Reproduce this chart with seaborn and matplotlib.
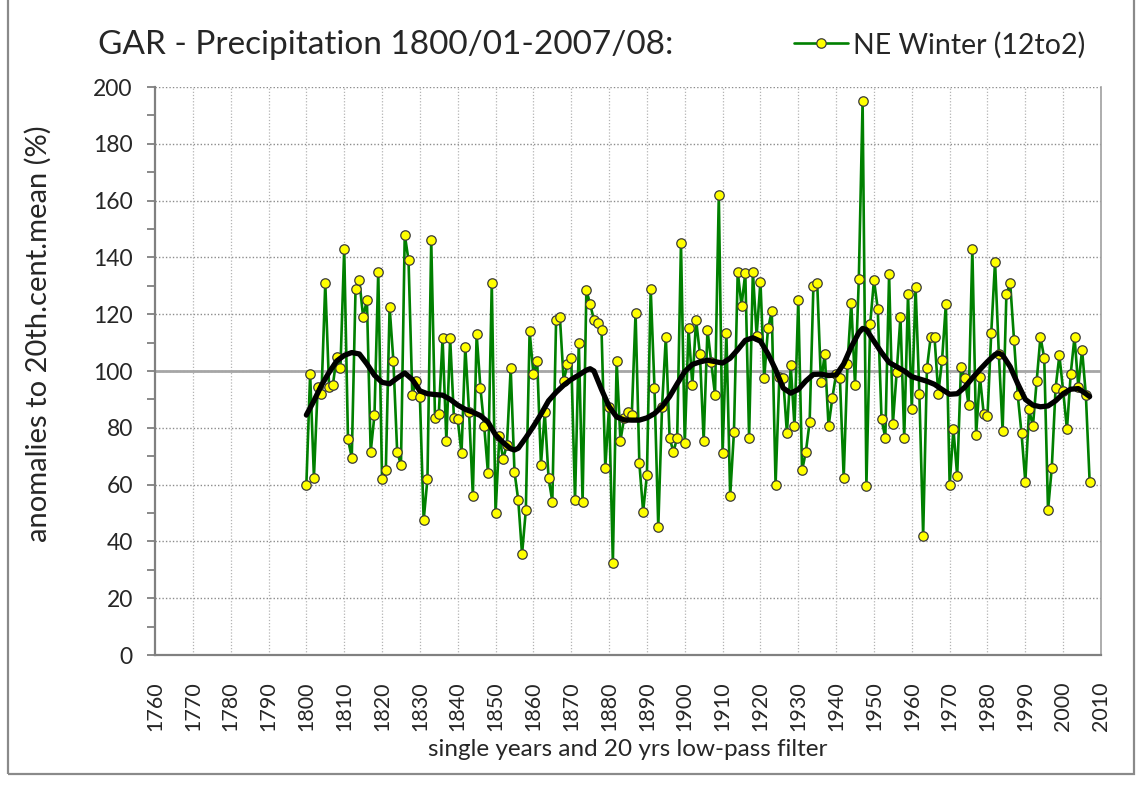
import matplotlib
matplotlib.use("Agg")
import matplotlib.pyplot as plt
from matplotlib.ticker import MultipleLocator
from matplotlib.lines import Line2D
import pandas as pd
import seaborn as sns

# NE winter (Dec-Feb) precipitation, % of 20th century mean, 1800/01 .. 2007/08
years = list(range(1800, 2008))
winter_pct = [
    60, 99, 62.5, 94.5, 92, 131, 94.5, 95, 105, 101,
    143, 76, 69.5, 129, 132, 119, 125, 71.5, 84.5, 135,
    62, 65, 122.5, 103.5, 71.5, 67, 148, 139, 91.5, 96.5,
    91, 47.5, 62, 146, 83.5, 85, 111.5, 75.5, 111.5, 83.5,
    83, 71, 108.5, 85.5, 56, 113, 94, 80.5, 64, 131,
    50, 77, 69, 74, 101, 64.5, 54.5, 35.5, 51, 114,
    99, 103.5, 67, 85.5, 62.5, 54, 118, 119, 96.5, 102.5,
    104.5, 54.5, 110, 54, 128.5, 123.5, 118, 117, 114.5, 66,
    87.5, 32.5, 103.5, 75.5, 83.5, 85.5, 84.5, 120.5, 67.5, 50.5,
    63.5, 129, 94, 45, 87.5, 112, 76.5, 71.5, 76.5, 145,
    74.5, 115, 95, 118, 106, 75.5, 114.5, 103, 91.5, 162,
    71, 113.5, 56, 78.5, 135, 123, 134.5, 76.5, 135, 112.5,
    131.5, 97.5, 115, 121, 60, 98, 97.5, 78, 102, 80.5,
    125, 65, 71.5, 82, 130, 131, 96, 106, 80.5, 90.5,
    99, 97.5, 62.5, 102.5, 124, 95, 132.5, 195, 59.5, 116.5,
    132, 122, 83, 76.5, 134, 81.5, 99.5, 119, 76.5, 127,
    86.5, 129.5, 92, 42, 101, 112, 112, 92, 104, 123.5,
    60, 79.5, 63, 101.5, 97.5, 88, 143, 77.5, 98, 85,
    84, 113.5, 138.5, 106, 79, 127, 131, 111, 91.5, 78,
    61, 86.5, 80.5, 96.5, 112, 104.5, 51, 66, 94, 105.5,
    93, 79.5, 99, 112, 94.5, 107.5, 91.5, 61,
]

# 20 yr low-pass curve
lowpass_years = [
    1800, 1802, 1804, 1806, 1808, 1810, 1812, 1814, 1816, 1818,
    1820, 1822, 1824, 1826, 1828, 1830, 1832, 1834, 1836, 1838,
    1840, 1842, 1844, 1846, 1848, 1850, 1852, 1854, 1855, 1856,
    1858, 1860, 1862, 1864, 1866, 1868, 1870, 1872, 1874, 1875,
    1876, 1878, 1880, 1882, 1884, 1886, 1888, 1890, 1892, 1894,
    1896, 1898, 1900, 1902, 1904, 1906, 1908, 1910, 1912, 1914,
    1916, 1918, 1920, 1922, 1924, 1926, 1928, 1930, 1932, 1934,
    1936, 1938, 1940, 1942, 1944, 1946, 1947, 1948, 1950, 1952,
    1954, 1956, 1958, 1960, 1962, 1964, 1966, 1968, 1970, 1972,
    1974, 1976, 1978, 1980, 1982, 1983, 1984, 1986, 1988, 1990,
    1992, 1994, 1996, 1998, 2000, 2002, 2004, 2006, 2007,
]
lowpass_pct = [
    84.5, 89.5, 95, 99.5, 103.5, 105.5, 106.5, 106, 102.5, 98.5,
    96, 95.5, 97.5, 99.3, 97, 93, 92, 91.7, 91.5, 90,
    88, 86.5, 85.5, 84.3, 82, 77.5, 74.8, 72.6, 72.2, 72.8,
    76.5, 80.5, 84.8, 89.5, 92.5, 95, 97, 98.6, 100.3, 100.8,
    100, 93.5, 87.5, 83.8, 82.8, 82.7, 82.7, 83.5, 85, 87.5,
    91, 95.5, 99.8, 102.3, 103.2, 103.8, 103.3, 102.8, 104.5, 107.5,
    110.8, 111.7, 110.5, 106, 100.5, 94, 92.2, 93.5, 96.5, 98.8,
    98.9, 98.4, 98.6, 102.5, 108.5, 113.5, 115, 114.5, 110.5, 106.5,
    103, 101.5, 100, 98, 97.2, 96.4, 95.3, 93.5, 91.8, 92,
    94.3, 97.5, 100.5, 103.3, 105.8, 106.3, 105.6, 101.5, 95.5, 90,
    88, 87.4, 87.7, 89.5, 92, 93.6, 93.8, 92, 91,
]

df = pd.DataFrame({"year": years, "pct": winter_pct})
lp = pd.DataFrame({"year": lowpass_years, "pct": lowpass_pct})

sns.set_style("white")
plt.rcParams["font.family"] = ["Lato", "DejaVu Sans"]

W, H = 1141, 796
fig = plt.figure(figsize=(W / 100, H / 100), dpi=100)
ax = fig.add_axes([155 / W, 1 - 655 / H, (1101 - 155) / W, (655 - 87) / H])

# grid + reference line
for yv in range(20, 201, 20):
    ax.axhline(yv, color="#8c8c8c", lw=1.0, ls=(0, (1, 1.5)), zorder=1)
for xv in range(1770, 2011, 10):
    ax.axvline(xv, color="#b4b4b4", lw=0.9, ls=(0, (1, 1.5)), zorder=1)
ax.axhline(100, color="#a6a6a6", lw=2.0, zorder=1.5)

sns.lineplot(data=df, x="year", y="pct", ax=ax, color="#008000", lw=1.9,
             marker="o", markersize=6.8, markerfacecolor="#FFFF00",
             markeredgecolor="#3a3a3a", markeredgewidth=0.9,
             label="NE Winter (12to2)", zorder=3, legend=False)
sns.lineplot(data=lp, x="year", y="pct", ax=ax, color="black", lw=3.8,
             zorder=4, legend=False)

ax.set_xlim(1760, 2010)
ax.set_ylim(0, 200)
ax.xaxis.set_major_locator(MultipleLocator(10))
ax.yaxis.set_major_locator(MultipleLocator(20))
ax.yaxis.set_minor_locator(MultipleLocator(10))
ax.tick_params(axis="y", which="both", direction="out", length=6, width=1.3,
               color="#808080", labelsize=16.5, pad=10, left=True)
ax.tick_params(axis="x", length=0, labelsize=15.5, pad=19, rotation=90)
ax.set_xlabel("")
ax.set_ylabel("")

for s in ["left", "bottom"]:
    ax.spines[s].set_color("#808080")
    ax.spines[s].set_linewidth(1.6)
ax.spines["top"].set_visible(False)
ax.spines["right"].set_color("#a0a0a0")
ax.spines["right"].set_linewidth(1.2)

fig.text(98 / W, 1 - 45 / H, "GAR - Precipitation 1800/01-2007/08:",
         fontsize=24, va="center", ha="left")
fig.text(38 / W, 1 - 334 / H, "anomalies to 20th.cent.mean (%)",
         fontsize=21, rotation=90, va="center", ha="center")
fig.text(628 / W, 1 - 749 / H, "single years and 20 yrs low-pass filter",
         fontsize=17.5, va="center", ha="center")

handle = Line2D([], [], color="#008000", lw=1.9, marker="o", markersize=6.8,
                markerfacecolor="#FFFF00", markeredgecolor="#3a3a3a",
                markeredgewidth=0.9)
fig.legend([handle], ["NE Winter (12to2)"], loc="center right",
           bbox_to_anchor=(1097 / W, 1 - 45 / H), frameon=False,
           fontsize=20.5, handlelength=1.9, handletextpad=0.2, borderaxespad=0)

# outer chart border
border = plt.Rectangle((8 / W, 1 - 774 / H), (1134 - 8) / W, 790 / H,
                       transform=fig.transFigure, fill=False,
                       edgecolor="#8a8a8a", lw=1.6)
fig.patches.append(border)

fig.savefig("out.png", dpi=100)
